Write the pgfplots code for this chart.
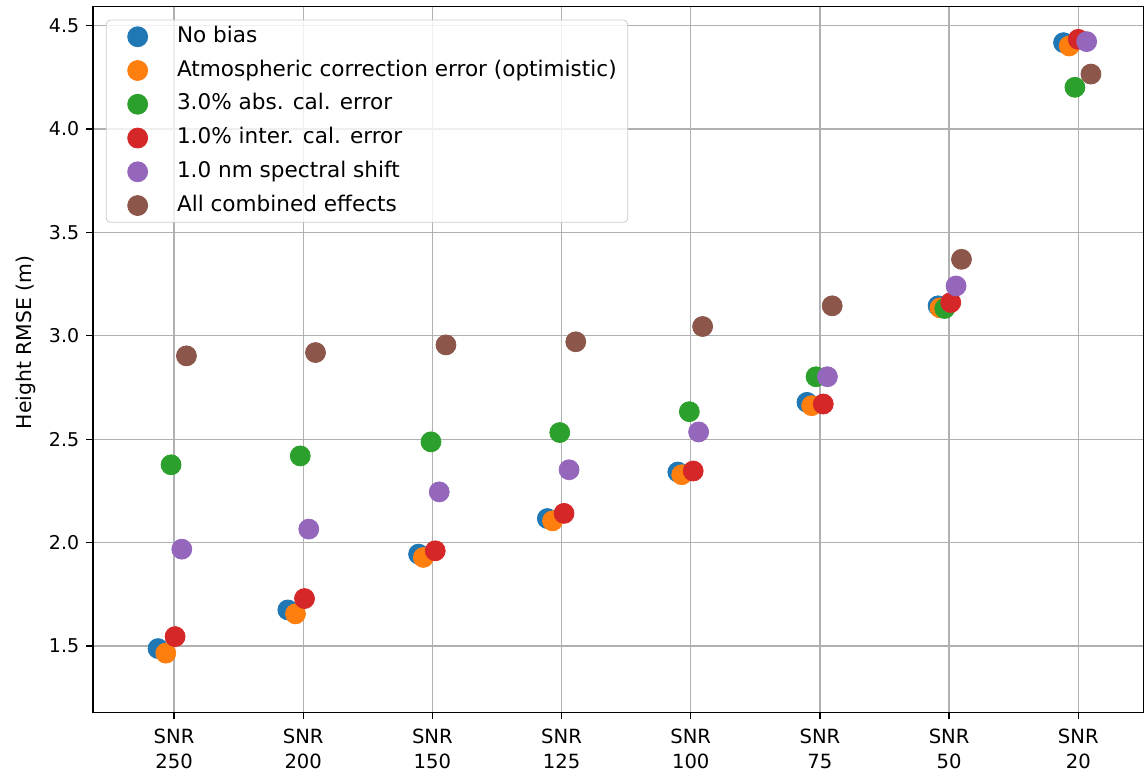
\documentclass[border=0pt]{standalone}
\usepackage{fontspec}
\setmainfont{DejaVu Sans}
\usepackage{pgfplots}
\pgfplotsset{compat=1.18}
\definecolor{c1}{HTML}{1F77B4}
\definecolor{c2}{HTML}{FF7F0E}
\definecolor{c3}{HTML}{2CA02C}
\definecolor{c4}{HTML}{D62728}
\definecolor{c5}{HTML}{9467BD}
\definecolor{c6}{HTML}{8C564B}
\begin{document}
\begin{tikzpicture}
\begin{axis}[
  scale only axis, width=526pt, height=353.3pt,
  xmin=-0.626, xmax=7.509, ymin=1.178, ymax=4.592,
  xtick={0,1,2,3,4,5,6,7},
  xticklabels={SNR\\250,SNR\\200,SNR\\150,SNR\\125,SNR\\100,SNR\\75,SNR\\50,SNR\\20},
  xticklabel style={align=center, font=\fontsize{9.8}{12.3}\selectfont, yshift=-1.3pt},
  ytick={1.5,2.0,2.5,3.0,3.5,4.0,4.5},
  yticklabel style={font=\fontsize{9.5}{11}\selectfont, /pgf/number format/.cd, fixed, fixed zerofill, precision=1, assume math mode=true},
  grid=major, grid style={color=black!31, line width=0.6pt},
  tick align=outside, tick pos=left, major tick length=3.5pt,
  axis line style={line width=0.8pt},
  tick style={black, line width=0.6pt},
  ylabel={Height RMSE (m)},
  ylabel style={font=\fontsize{10.2}{12}\selectfont, at={(ticklabel cs:0.52)}, xshift=1.5pt},
  legend cell align=left,
  legend image code/.code={%
    \path (0pt,0pt) (20pt,0pt);
    \draw[#1, draw opacity=1, fill opacity=1] plot coordinates {(10pt,0pt)};},
  legend style={at={(rel axis cs:0.0121,0.9816)}, anchor=north west, draw=black!20, rounded corners=2pt, fill=white, fill opacity=0.8, text opacity=1, font=\fontsize{10.8}{13}\selectfont, row sep=5.4pt, inner xsep=5.5pt, inner ysep=2.6pt,
    nodes={inner sep=0pt, text height=8.5pt, text depth=3pt},
    /tikz/every odd column/.append style={column sep=9.5pt}},
  every axis plot/.append style={only marks, mark=*, mark size=5pt},
]
\addplot[c1, mark options={draw=c1, fill=c1}] table {
x y
-0.124 1.487
0.881 1.674
1.893 1.944
2.890 2.116
3.900 2.341
4.900 2.678
5.915 3.145
6.886 4.418
};
\addlegendentry{No bias}
\addplot[c2, mark options={draw=c2, fill=c2}] table {
x y
-0.064 1.465
0.940 1.655
1.930 1.928
2.930 2.105
3.930 2.328
4.936 2.662
5.930 3.135
6.930 4.402
};
\addlegendentry{Atmospheric correction error (optimistic)}
\addplot[c3, mark options={draw=c3, fill=c3}] table {
x y
-0.023 2.376
0.977 2.419
1.989 2.487
2.986 2.532
3.989 2.633
4.970 2.802
5.966 3.132
6.974 4.202
};
\addlegendentry{3.0\% abs. cal. error}
\addplot[c4, mark options={draw=c4, fill=c4}] table {
x y
0.008 1.545
1.010 1.729
2.022 1.960
3.019 2.141
4.019 2.346
5.026 2.670
6.013 3.161
7.000 4.434
};
\addlegendentry{1.0\% inter. cal. error}
\addplot[c5, mark options={draw=c5, fill=c5}] table {
x y
0.060 1.968
1.043 2.065
2.053 2.245
3.058 2.352
4.061 2.535
5.058 2.802
6.054 3.241
7.065 4.423
};
\addlegendentry{1.0 nm spectral shift}
\addplot[c6, mark options={draw=c6, fill=c6}] table {
x y
0.096 2.903
1.095 2.919
2.105 2.956
3.110 2.971
4.092 3.045
5.095 3.145
6.096 3.370
7.098 4.266
};
\addlegendentry{All combined effects}
\end{axis}
\pgfresetboundingbox
\path (current axis.south west) +(-46.65pt,-29.85pt) (current axis.north east) +(-0.6pt,3.35pt);
\end{tikzpicture}
\end{document}
